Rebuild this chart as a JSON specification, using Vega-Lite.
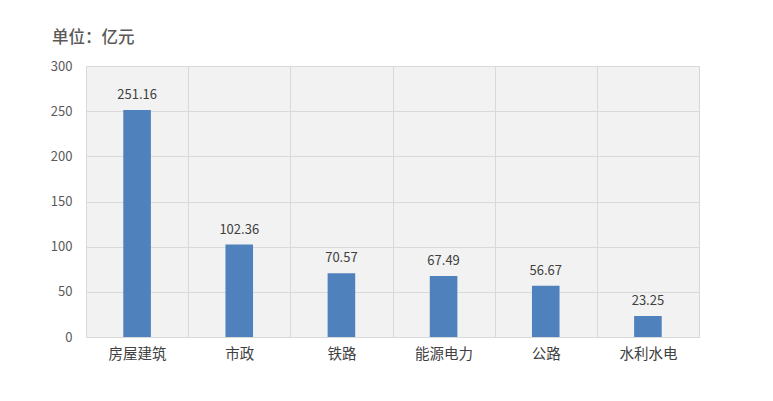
{
  "$schema": "https://vega.github.io/schema/vega-lite/v6.json",
  "autosize": "none",
  "width": 613,
  "height": 271,
  "padding": {"left": 86, "top": 66, "right": 74, "bottom": 64},
  "background": "#ffffff",
  "config": {
    "font": "Noto Sans CJK SC",
    "view": {"fill": "#f2f2f2", "stroke": "#d9d9d9"}
  },
  "title": {
    "text": "单位：亿元",
    "anchor": "start",
    "frame": "group",
    "dx": -34,
    "offset": 14,
    "fontSize": 16.5,
    "fontWeight": 500,
    "color": "#595959",
    "font": "Noto Sans CJK SC"
  },
  "data": {
    "values": [
      {"类别": "房屋建筑", "金额": 251.16},
      {"类别": "市政", "金额": 102.36},
      {"类别": "铁路", "金额": 70.57},
      {"类别": "能源电力", "金额": 67.49},
      {"类别": "公路", "金额": 56.67},
      {"类别": "水利水电", "金额": 23.25}
    ]
  },
  "encoding": {
    "x": {
      "field": "类别",
      "type": "nominal",
      "sort": null,
      "scale": {"paddingInner": 0, "paddingOuter": 0},
      "axis": {
        "title": null,
        "labelAngle": 0,
        "labelFontSize": 14.5,
        "labelColor": "#404040",
        "labelPadding": 10,
        "ticks": false,
        "domainColor": "#d9d9d9",
        "grid": true,
        "gridColor": "#d9d9d9",
        "tickBand": "extent"
      }
    },
    "y": {
      "field": "金额",
      "type": "quantitative",
      "scale": {"domain": [0, 300]},
      "axis": {
        "title": null,
        "values": [0, 50, 100, 150, 200, 250, 300],
        "labelFontSize": 13,
        "labelColor": "#595959",
        "labelPadding": 14,
        "ticks": false,
        "domain": false,
        "gridColor": "#d9d9d9"
      }
    }
  },
  "layer": [
    {
      "mark": {"type": "bar", "color": "#4f81bd", "width": {"band": 0.27}}
    },
    {
      "mark": {"type": "text", "baseline": "alphabetic", "dy": -11, "fontSize": 13, "color": "#404040"},
      "encoding": {"text": {"field": "金额", "type": "quantitative", "format": ".2f"}}
    }
  ]
}
